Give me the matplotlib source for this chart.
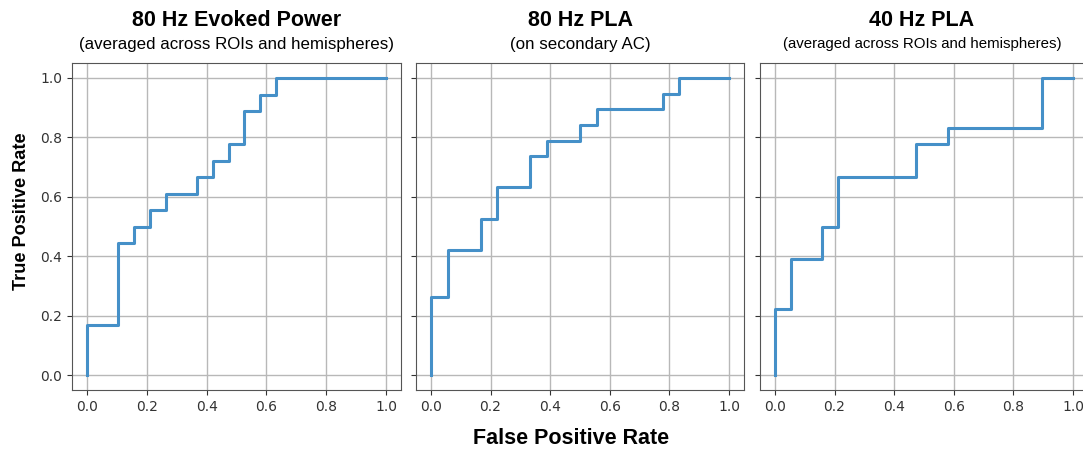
import matplotlib
matplotlib.use('Agg')
import matplotlib.pyplot as plt
import numpy as np

titles = ['80 Hz Evoked Power', '80 Hz PLA', '40 Hz PLA']
subtitles = ['(averaged across ROIs and hemispheres)', '(on secondary AC)',
             '(averaged across ROIs and hemispheres)']

# ROC points
fpr_evoked80 = [0, 0, 0.105, 0.105, 0.158, 0.158, 0.211, 0.211, 0.263, 0.263, 0.368, 0.368,
                0.421, 0.421, 0.474, 0.474, 0.526, 0.526, 0.579, 0.579, 0.632, 0.632, 1.0]
tpr_evoked80 = [0, 0.167, 0.167, 0.444, 0.444, 0.5, 0.5, 0.556, 0.556, 0.611, 0.611, 0.667,
                0.667, 0.722, 0.722, 0.778, 0.778, 0.889, 0.889, 0.944, 0.944, 1.0, 1.0]

fpr_pla80 = [0, 0, 0.056, 0.056, 0.167, 0.167, 0.222, 0.222, 0.333, 0.333, 0.389, 0.389,
             0.5, 0.5, 0.556, 0.556, 0.778, 0.778, 0.833, 0.833, 1.0]
tpr_pla80 = [0, 0.263, 0.263, 0.421, 0.421, 0.526, 0.526, 0.632, 0.632, 0.737, 0.737, 0.789,
             0.789, 0.842, 0.842, 0.895, 0.895, 0.947, 0.947, 1.0, 1.0]

fpr_pla40 = [0, 0, 0.053, 0.053, 0.158, 0.158, 0.211, 0.211, 0.474, 0.474, 0.579, 0.579,
             0.895, 0.895, 1.0]
tpr_pla40 = [0, 0.222, 0.222, 0.389, 0.389, 0.5, 0.5, 0.667, 0.667, 0.778, 0.778, 0.833,
             0.833, 1.0, 1.0]

curves = [(fpr_evoked80, tpr_evoked80), (fpr_pla80, tpr_pla80), (fpr_pla40, tpr_pla40)]
ticks = [0.0, 0.2, 0.4, 0.6, 0.8, 1.0]

W, H = 1083, 450
fig = plt.figure(figsize=(W / 100, H / 100), dpi=100)

# axes boxes in pixels: left, right
boxes = [(72, 401), (416, 744), (760, 1088)]
top, bottom = 63, 390

font = ['Liberation Sans', 'DejaVu Sans']
sub_sizes = [12.2, 12.2, 10.8]

for i, ((x, y), (l, r)) in enumerate(zip(curves, boxes)):
    ax = fig.add_axes([l / W, 1 - bottom / H, (r - l) / W, (bottom - top) / H])
    ax.plot(x, y, color='#4590c8', lw=2.2)
    ax.set_xlim(-0.05, 1.05)
    ax.set_ylim(-0.05, 1.05)
    ax.set_xticks(ticks)
    ax.set_yticks(ticks)
    ax.grid(True, color='#b8b8b8', lw=1)
    ax.set_axisbelow(True)
    ax.tick_params(labelsize=10, labelcolor='#333333', color='#333333')
    for s in ax.spines.values():
        s.set_color('#555555')
    if i > 0:
        ax.set_yticklabels([])
    cx = (l + r) / 2 / W
    if i == 2:
        cx = 922 / W
    fig.text(cx, 1 - 21 / H, titles[i], ha='center', va='center', fontsize=15.5,
             fontweight='bold', family=font)
    fig.text(cx, 1 - 44 / H, subtitles[i], ha='center', va='center', fontsize=sub_sizes[i],
             family=font)

fig.text(22 / W, 1 - 211 / H, 'True Positive Rate', rotation=90, ha='center', va='center',
         fontsize=13.1, fontweight='bold', family=font)
fig.text(571 / W, 1 - 438 / H, 'False Positive Rate', ha='center', va='center',
         fontsize=15.5, fontweight='bold', family=font)

fig.savefig('out.png', dpi=100)
